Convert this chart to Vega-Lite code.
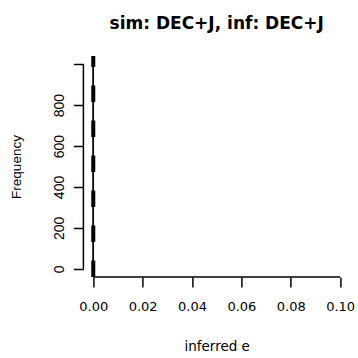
{
  "$schema": "https://vega.github.io/schema/vega-lite/v6.json",
  "width": 266.6,
  "height": 221,
  "autosize": {"type": "none"},
  "padding": {"left": 83.4, "top": 56, "right": 8, "bottom": 81},
  "background": "white",
  "title": {
    "text": "sim: DEC+J, inf: DEC+J",
    "font": "DejaVu Sans",
    "fontSize": 17,
    "fontWeight": "bold",
    "color": "black",
    "anchor": "middle",
    "frame": "group",
    "baseline": "alphabetic",
    "offset": 8
  },
  "data": {"values": [{"inferred_e": 0, "frequency": 1000}]},
  "config": {
    "view": {"stroke": null},
    "axis": {
      "domain": false,
      "grid": false,
      "tickColor": "black",
      "tickWidth": 1.5,
      "tickSize": 10,
      "labelColor": "black",
      "labelFontSize": 13,
      "labelFlush": false,
      "labelOverlap": false,
      "titleColor": "black",
      "titleFontWeight": "normal"
    }
  },
  "layer": [
    {
      "mark": {"type": "rule", "color": "black", "strokeWidth": 1.5},
      "encoding": {
        "x": {
          "field": "inferred_e",
          "type": "quantitative",
          "scale": {"domain": [-0.004, 0.104], "nice": false, "zero": false},
          "axis": {
            "values": [0, 0.02, 0.04, 0.06, 0.08, 0.1],
            "format": ".2f",
            "labelFont": "DejaVu Sans",
            "labelPadding": 23.5,
            "labelBaseline": "alphabetic",
            "title": "inferred e",
            "titleFont": "DejaVu Sans",
            "titleFontSize": 13.5,
            "titleX": 133.3,
            "titleY": 73,
            "titleAlign": "center",
            "titleBaseline": "alphabetic"
          }
        },
        "y": {
          "field": "frequency",
          "type": "quantitative",
          "scale": {"domain": [-40, 1040], "nice": false, "zero": false},
          "axis": {
            "values": [0, 200, 400, 600, 800, 1000],
            "labelExpr": "datum.value == 1000 ? '' : datum.label",
            "labelFont": "Liberation Sans",
            "labelFontSize": 14,
            "labelAngle": -90,
            "labelAlign": "center",
            "labelBaseline": "alphabetic",
            "labelPadding": 10.4,
            "title": "Frequency",
            "titleFont": "Liberation Sans",
            "titleFontSize": 13.5,
            "titleAngle": -90,
            "titleX": -63.4,
            "titleY": 110.5,
            "titleAlign": "center",
            "titleBaseline": "alphabetic"
          }
        },
        "y2": {"datum": 0}
      }
    },
    {
      "mark": {"type": "rule", "color": "black", "strokeWidth": 1.5},
      "encoding": {
        "x": {"field": "inferred_e", "type": "quantitative"},
        "y": {"datum": -40, "type": "quantitative"},
        "y2": {"datum": 1040}
      }
    },
    {
      "mark": {"type": "rule", "color": "black", "strokeWidth": 4, "strokeDash": [16.5, 18.5], "strokeCap": "butt"},
      "encoding": {
        "x": {"field": "inferred_e", "type": "quantitative"},
        "y": {"datum": -40, "type": "quantitative"},
        "y2": {"datum": 1040}
      }
    },
    {
      "mark": {"type": "rule", "color": "black", "strokeWidth": 1.5},
      "encoding": {
        "x": {"datum": 0, "type": "quantitative"},
        "x2": {"datum": 0.1},
        "y": {"datum": -40, "type": "quantitative"}
      }
    },
    {
      "mark": {"type": "rule", "color": "black", "strokeWidth": 1.5},
      "encoding": {
        "x": {"datum": -0.004, "type": "quantitative"},
        "y": {"datum": 0, "type": "quantitative"},
        "y2": {"datum": 1000}
      }
    }
  ]
}
